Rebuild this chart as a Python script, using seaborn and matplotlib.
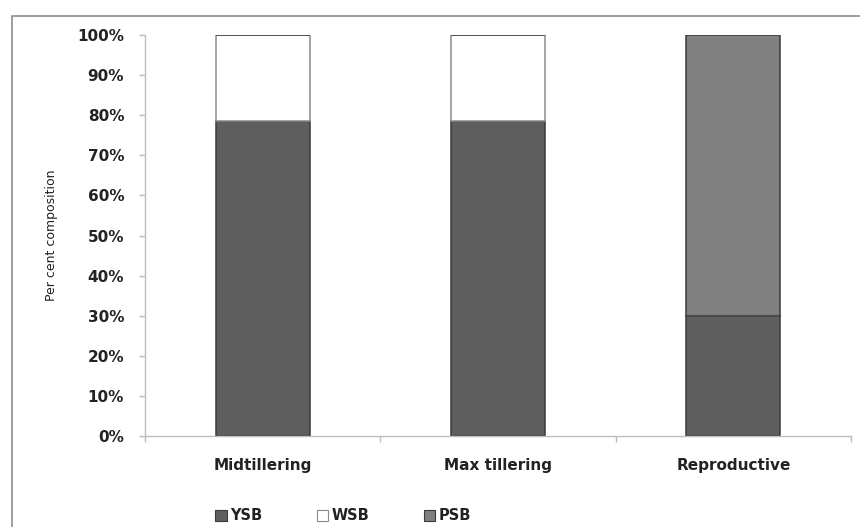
import matplotlib
matplotlib.use("Agg")
import matplotlib.pyplot as plt
from matplotlib.patches import Rectangle, Patch
import seaborn as sns
import numpy as np

# Growth stages and the share of each stem borer species
stages = ["Midtillering", "Max tillering", "Reproductive"]
ysb = [78.5, 78.5, 30.0]
wsb = [21.5, 21.5, 0.0]
psb = [0.0, 0.0, 70.0]
series_names = ["YSB", "WSB", "PSB"]
y_ticks = [0, 10, 20, 30, 40, 50, 60, 70, 80, 90, 100]

sns.set_theme(style="white")
plt.rcParams["font.family"] = ["DejaVu Sans"]

fig = plt.figure(figsize=(8.6, 5.27), dpi=100)
ax = fig.add_axes([145 / 860, 1 - 436 / 527, (851 - 145) / 860, (436 - 35) / 527])

fills = ["#5e5e5e", "#ffffff", "#808080"]
edges = ["#3a3a3a", "#8a8a8a", "#3a3a3a"]
bottom = np.zeros(len(stages))
for vals, fc, ec in zip([ysb, wsb, psb], fills, edges):
    sns.barplot(x=stages, y=vals, bottom=bottom, color=fc, saturation=1,
                edgecolor=ec, linewidth=1.1, width=0.40, ax=ax, errorbar=None)
    bottom = bottom + np.array(vals)

ax.set_xlim(-0.5, 2.5)
ax.set_ylim(0, 100)
ax.set_yticks(y_ticks)
ax.set_yticklabels([f"{t}%" for t in y_ticks])
ax.set_xticks(range(len(stages)))
ax.set_xticklabels(stages)
ax.set_xticks([-0.5, 0.5, 1.5, 2.5], minor=True)

for side in ["top", "right"]:
    ax.spines[side].set_visible(False)
for side in ["left", "bottom"]:
    ax.spines[side].set_color("#bdbdbd")
    ax.spines[side].set_linewidth(1.0)

ax.tick_params(axis="y", which="major", left=True, length=4, width=1, color="#bdbdbd",
               pad=11, labelsize=11, labelcolor="#222222")
ax.tick_params(axis="x", which="major", bottom=False, pad=10, labelsize=11,
               labelcolor="#222222")
ax.tick_params(axis="x", which="minor", bottom=True, length=4, width=1, color="#bdbdbd")
for lbl in ax.get_yticklabels() + ax.get_xticklabels():
    lbl.set_fontweight("bold")

ax.set_ylabel("Per cent composition", fontsize=9, color="#222222", labelpad=14)
ax.set_xlabel("")

# chart area frame
fig.patches.append(Rectangle((12 / 860, -0.2), 1.2, 1 - 16 / 527 + 0.2,
                             transform=fig.transFigure, fill=False,
                             edgecolor="#8c8c8c", linewidth=1.2, zorder=0))

handles = [Patch(facecolor=fc, edgecolor=ec, linewidth=0.8)
           for fc, ec in zip(fills, edges)]
leg = fig.legend(handles, series_names, loc="center left",
                 bbox_to_anchor=(202 / 860, 1 - 516 / 527), ncol=3, frameon=False,
                 handlelength=0.8, handleheight=0.8, handletextpad=0.25,
                 columnspacing=3.7, prop={"weight": "bold", "size": 10.5})
for t in leg.get_texts():
    t.set_color("#222222")

fig.savefig("out.png", dpi=100)
